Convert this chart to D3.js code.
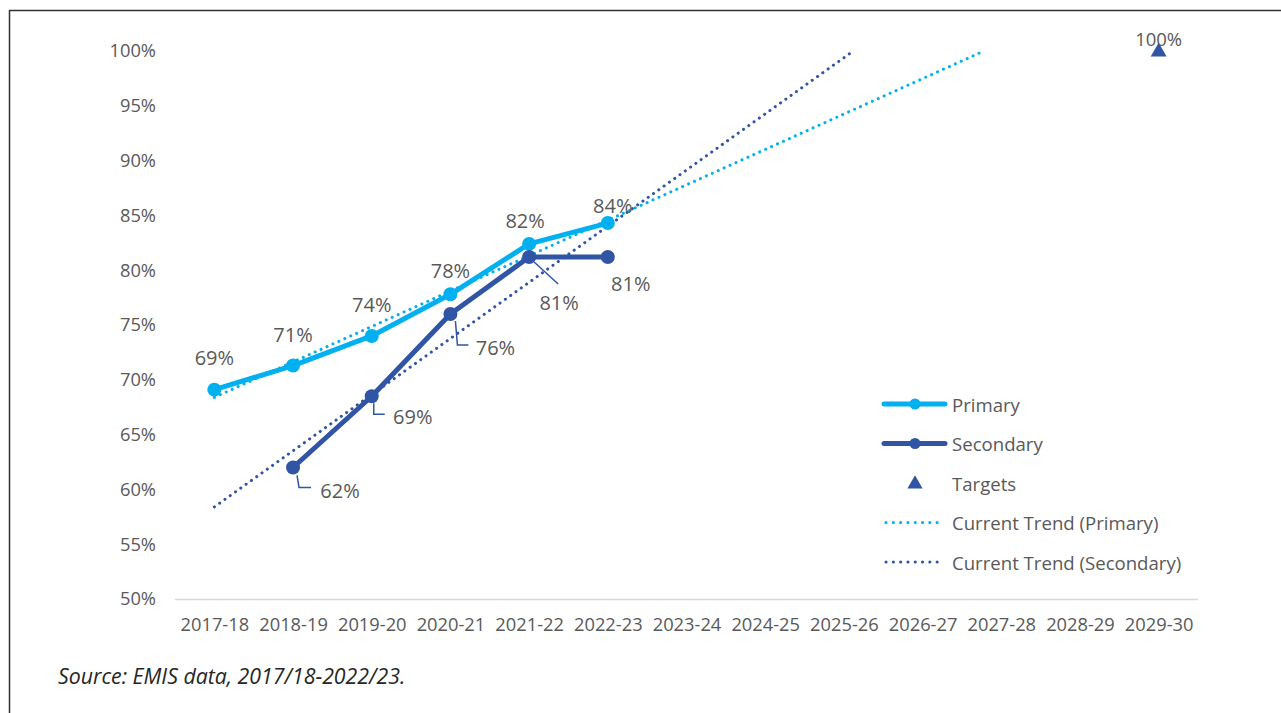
<!DOCTYPE html>
<html>
<head>
<meta charset="utf-8">
<script src="https://cdn.jsdelivr.net/npm/d3@7"></script>
<style>
  body { margin: 0; background: #fff; }
  svg text { font-family: "Open Sans", "Noto Sans", sans-serif; fill: #595959; }
</style>
</head>
<body>
<div id="chart"></div>
<script>
// Categories (school years)
const years = ["2017-18", "2018-19", "2019-20", "2020-21", "2021-22", "2022-23", "2023-24",
               "2024-25", "2025-26", "2026-27", "2027-28", "2028-29", "2029-30"];

// Series values (%)
const primaryYears   = ["2017-18", "2018-19", "2019-20", "2020-21", "2021-22", "2022-23"];
const primaryValues  = [69.1, 71.3, 74.0, 77.8, 82.4, 84.3];
const secondaryYears  = ["2018-19", "2019-20", "2020-21", "2021-22", "2022-23"];
const secondaryValues = [62.0, 68.5, 76.0, 81.2, 81.2];
const targetYears  = ["2029-30"];
const targetValues = [100];

// Linear trend lines: [category index, value] at both ends
const trendPrimary   = [[0, 68.4], [9.78, 100]];
const trendSecondary = [[0, 58.4], [8.12, 100]];

// Y ticks
const yTicks = [50, 55, 60, 65, 70, 75, 80, 85, 90, 95, 100];

const W = 1281, H = 713;
const cPrimary = "#00B0F0", cSecondary = "#2F55A4";

const svg = d3.select("#chart").append("svg")
    .attr("width", W).attr("height", H);

// Frame
svg.append("path")
    .attr("d", "M9.5," + H + " L9.5,10.5 L" + W + ",10.5")
    .attr("fill", "none").attr("stroke", "#333").attr("stroke-width", 1.5);

const x = d3.scalePoint().domain(years).range([175, 1198]).padding(0.5);
const xi = d3.scaleLinear().domain([0, years.length - 1])
    .range([x(years[0]), x(years[years.length - 1])]);
const y = d3.scaleLinear().domain([50, 100]).range([599, 51]);

// Y axis labels
const yAxis = d3.axisLeft(y).tickValues(yTicks).tickSize(0).tickPadding(0)
    .tickFormat(d => d + "%");
svg.append("g").attr("transform", "translate(156,0)").call(yAxis)
    .call(g => g.select(".domain").remove())
    .selectAll("text").attr("font-size", 18.3).attr("fill", "#595959")
    .attr("font-family", null);

// X axis
const xAxis = d3.axisBottom(x).tickSize(0).tickPadding(19);
svg.append("g").attr("transform", "translate(0,599)").call(xAxis)
    .call(g => g.select(".domain").attr("stroke", "#d9d9d9").attr("stroke-width", 1.3)
        .attr("d", "M175,0.5H1198"))
    .selectAll("text").attr("font-size", 18.3).attr("fill", "#595959")
    .attr("font-family", null);

// Trend lines
const trendLine = d3.line().x(d => xi(d[0])).y(d => y(d[1]));
function drawTrend(pts, color) {
    svg.append("path")
        .attr("d", trendLine(pts))
        .attr("fill", "none")
        .attr("stroke", color)
        .attr("stroke-width", 3)
        .attr("stroke-linecap", "round")
        .attr("stroke-dasharray", "0.1 6.4");
}
drawTrend(trendSecondary, cSecondary);
drawTrend(trendPrimary, cPrimary);

// Series lines + markers
function drawSeries(cats, vals, color) {
    let pts = cats.map((c, i) => [x(c), y(vals[i])]);
    svg.append("path")
        .attr("d", d3.line()(pts))
        .attr("fill", "none").attr("stroke", color)
        .attr("stroke-width", 5).attr("stroke-linejoin", "round");
    svg.append("g").selectAll("circle").data(pts).enter()
        .append("circle")
            .attr("cx", d => d[0]).attr("cy", d => d[1])
            .attr("r", 7).attr("fill", color);
    return pts;
}
const pPts = drawSeries(primaryYears, primaryValues, cPrimary);
const sPts = drawSeries(secondaryYears, secondaryValues, cSecondary);

// Target triangles
targetYears.forEach((c, i) => {
    svg.append("path")
        .attr("d", d3.symbol().type(d3.symbolTriangle).size(110)())
        .attr("transform", "translate(" + x(c) + "," + (y(targetValues[i]) + 1) + ")")
        .attr("fill", cSecondary);
    svg.append("text")
        .attr("x", x(c)).attr("y", y(targetValues[i]) - 13)
        .attr("text-anchor", "middle").attr("dominant-baseline", "central")
        .attr("font-size", 18.5)
        .text(targetValues[i] + "%");
});

// Primary labels (offset above points)
const pOffsets = [[0, -32], [0, -31], [0, -31], [0, -24], [-4, -23], [5, -18]];
pPts.forEach((p, i) => {
    svg.append("text")
        .attr("x", p[0] + pOffsets[i][0]).attr("y", p[1] + pOffsets[i][1])
        .attr("text-anchor", "middle").attr("dominant-baseline", "central")
        .attr("font-size", 20)
        .text(Math.round(primaryValues[i]) + "%");
});

// Secondary labels with leader lines
const sOffsets = [[47, 23], [41, 20], [45, 33], [30, 45], [23, 26]];
const sLeaders = [
    [[4, 8], [6, 20], [18, 20]],
    [[2, 7], [2, 18], [13, 18]],
    [[5, 7], [7, 31], [18, 31]],
    [[5, 5], [29, 27]],
    null
];
sPts.forEach((p, i) => {
    if (sLeaders[i]) {
        svg.append("path")
            .attr("d", d3.line()(sLeaders[i].map(o => [p[0] + o[0], p[1] + o[1]])))
            .attr("fill", "none").attr("stroke", cSecondary).attr("stroke-width", 1.5);
    }
    svg.append("text")
        .attr("x", p[0] + sOffsets[i][0]).attr("y", p[1] + sOffsets[i][1])
        .attr("text-anchor", "middle").attr("dominant-baseline", "central")
        .attr("font-size", 20)
        .text(Math.round(secondaryValues[i]) + "%");
});

// Legend
const legendItems = [
    {label: "Primary", type: "line", color: cPrimary},
    {label: "Secondary", type: "line", color: cSecondary},
    {label: "Targets", type: "triangle", color: cSecondary},
    {label: "Current Trend (Primary)", type: "dots", color: cPrimary},
    {label: "Current Trend (Secondary)", type: "dots", color: cSecondary}
];
const legend = svg.append("g").attr("transform", "translate(884,404)");
legendItems.forEach((d, i) => {
    let g = legend.append("g").attr("transform", "translate(0," + (i * 39.5) + ")");
    if (d.type === "line") {
        g.append("line").attr("x1", 0).attr("x2", 61).attr("y1", 0).attr("y2", 0)
            .attr("stroke", d.color).attr("stroke-width", 5).attr("stroke-linecap", "round");
        g.append("circle").attr("cx", 31).attr("cy", 0).attr("r", 5.5).attr("fill", d.color);
    } else if (d.type === "triangle") {
        g.append("path")
            .attr("d", d3.symbol().type(d3.symbolTriangle).size(100)())
            .attr("transform", "translate(31,1)").attr("fill", d.color);
    } else {
        g.append("line").attr("x1", 2).attr("x2", 60).attr("y1", 0).attr("y2", 0)
            .attr("stroke", d.color).attr("stroke-width", 3)
            .attr("stroke-linecap", "round").attr("stroke-dasharray", "0.1 7.2");
    }
    g.append("text").attr("x", 68).attr("y", 0)
        .attr("dominant-baseline", "central").attr("font-size", 18.6)
        .text(d.label);
});

// Source note
svg.append("text")
    .attr("x", 58).attr("y", 684)
    .attr("font-size", 21.3).attr("font-style", "italic")
    .style("fill", "#262626")
    .text("Source: EMIS data, 2017/18-2022/23.");
</script>
</body>
</html>
